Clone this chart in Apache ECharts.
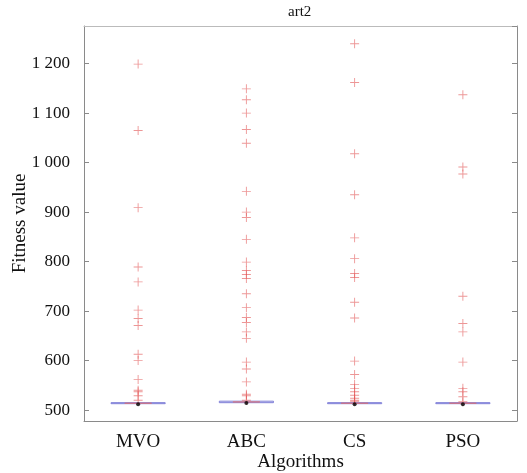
<!DOCTYPE html>
<html>
<head>
<meta charset="utf-8">
<script src="https://cdn.jsdelivr.net/npm/echarts@6/dist/echarts.min.js"></script>
<style>html,body{margin:0;padding:0;background:#fff;}#c{width:527px;height:473px;}</style>
</head>
<body>
<div id="c"></div>
<script>
const categories = ['MVO', 'ABC', 'CS', 'PSO'];
const q1 = [513, 515, 513, 513];
const median = [514, 516.5, 514, 514];
const q3 = [515, 518, 515, 515];
const best = [512, 514.5, 512, 512];
const mvoOut = [1199, 1065, 909, 789, 759, 702, 685, 671, 613, 600, 562, 540, 537, 529, 520];
const abcOut = [1149, 1127, 1100, 1067, 1039, 942, 900, 889, 845, 799, 782, 774, 766, 735, 707, 687, 677, 658, 645, 597, 583, 557, 532, 529, 520];
const csOut = [1240, 1162, 1018, 935, 848, 806, 776, 768, 718, 686, 599, 572, 552, 544, 537, 530, 524, 520, 518];
const psoOut = [1137, 991, 977, 730, 675, 658, 597, 544, 537, 527, 517];
const yMin = 478, yMax = 1276;

const outliers = [mvoOut, abcOut, csOut, psoOut];
const outData = [];
outliers.forEach((arr, i) => arr.forEach(v => outData.push([i, v])));
const boxData = categories.map((c, i) => [i, q1[i], median[i], q3[i]]);
const bestData = categories.map((c, i) => [i, best[i]]);

const font = 'Liberation Serif';
const axisColor = '#8a8a8a';
const chart = echarts.init(document.getElementById('c'));
chart.setOption({
  animation: false,
  title: {text: 'art2', left: 283, top: 0,
    textStyle: {fontFamily: font, fontWeight: 'normal', fontSize: 15, color: '#111'}},
  grid: {left: 84, right: 10, top: 26, bottom: 52, outerBoundsMode: 'none', containLabel: false},
  xAxis: [{
    type: 'category', data: categories, position: 'bottom',
    name: 'Algorithms', nameLocation: 'middle', nameGap: 32, nameMoveOverlap: false,
    nameTextStyle: {fontFamily: font, fontSize: 19, color: '#111'},
    axisLine: {lineStyle: {color: axisColor}},
    axisTick: {inside: true, alignWithLabel: true, length: 5, lineStyle: {color: axisColor}},
    axisLabel: {margin: 12, fontFamily: font, fontSize: 19, color: '#111'},
    splitLine: {show: false}
  }, {
    type: 'category', data: categories, position: 'top',
    axisLine: {lineStyle: {color: '#bbb'}},
    axisTick: {inside: true, alignWithLabel: true, length: 5, lineStyle: {color: axisColor}},
    axisLabel: {show: false}, splitLine: {show: false}
  }],
  yAxis: [{
    type: 'value', min: yMin, max: yMax, splitNumber: 8, position: 'left',
    name: 'Fitness value', nameLocation: 'middle', nameGap: 54, nameMoveOverlap: false,
    nameTextStyle: {fontFamily: font, fontSize: 19, color: '#111'},
    axisLine: {show: true, lineStyle: {color: axisColor}},
    axisTick: {show: true, inside: true, length: 5, lineStyle: {color: axisColor}},
    axisLabel: {margin: 14, fontFamily: font, fontSize: 17, color: '#111',
      showMinLabel: false, showMaxLabel: false,
      formatter: v => (v % 100 === 0 ? (v >= 1000 ? Math.floor(v / 1000) + ' ' + String(v % 1000).padStart(3, '0') : String(v)) : '')},
    splitLine: {show: false}
  }, {
    type: 'value', min: yMin, max: yMax, splitNumber: 8, position: 'right',
    axisLine: {show: true, lineStyle: {color: axisColor}},
    axisTick: {show: true, inside: true, length: 5, lineStyle: {color: axisColor}},
    axisLabel: {show: false}, splitLine: {show: false}
  }],
  series: [{
    type: 'custom', xAxisIndex: 0, yAxisIndex: 0, data: boxData, z: 3,
    renderItem: function (params, api) {
      const i = api.value(0);
      const top = api.coord([i, api.value(3)]);
      const bot = api.coord([i, api.value(1)]);
      const mid = api.coord([i, api.value(2)]);
      const bw = api.size([1, 0])[0];
      const w = bw * 0.5;
      return {type: 'group', children: [
        {type: 'rect', shape: {x: top[0] - w / 2, y: top[1], width: w, height: Math.max(bot[1] - top[1], 0.5)},
          style: {fill: 'none', stroke: '#7a7ad6', lineWidth: 1}},
        {type: 'line', shape: {x1: mid[0] - w / 4, y1: mid[1], x2: mid[0] + w / 4, y2: mid[1]},
          style: {stroke: '#e06a6a', lineWidth: 1}}
      ]};
    }
  }, {
    type: 'scatter', data: outData, z: 4,
    symbol: 'path://M4.5,0h1v10h-1zM0,4.5h10v1h-10z', symbolSize: 9,
    itemStyle: {color: 'rgba(225,80,80,0.75)'}
  }, {
    type: 'scatter', data: bestData, z: 5, symbol: 'circle', symbolSize: 4,
    itemStyle: {color: '#000'}
  }]
});
</script>
</body>
</html>
